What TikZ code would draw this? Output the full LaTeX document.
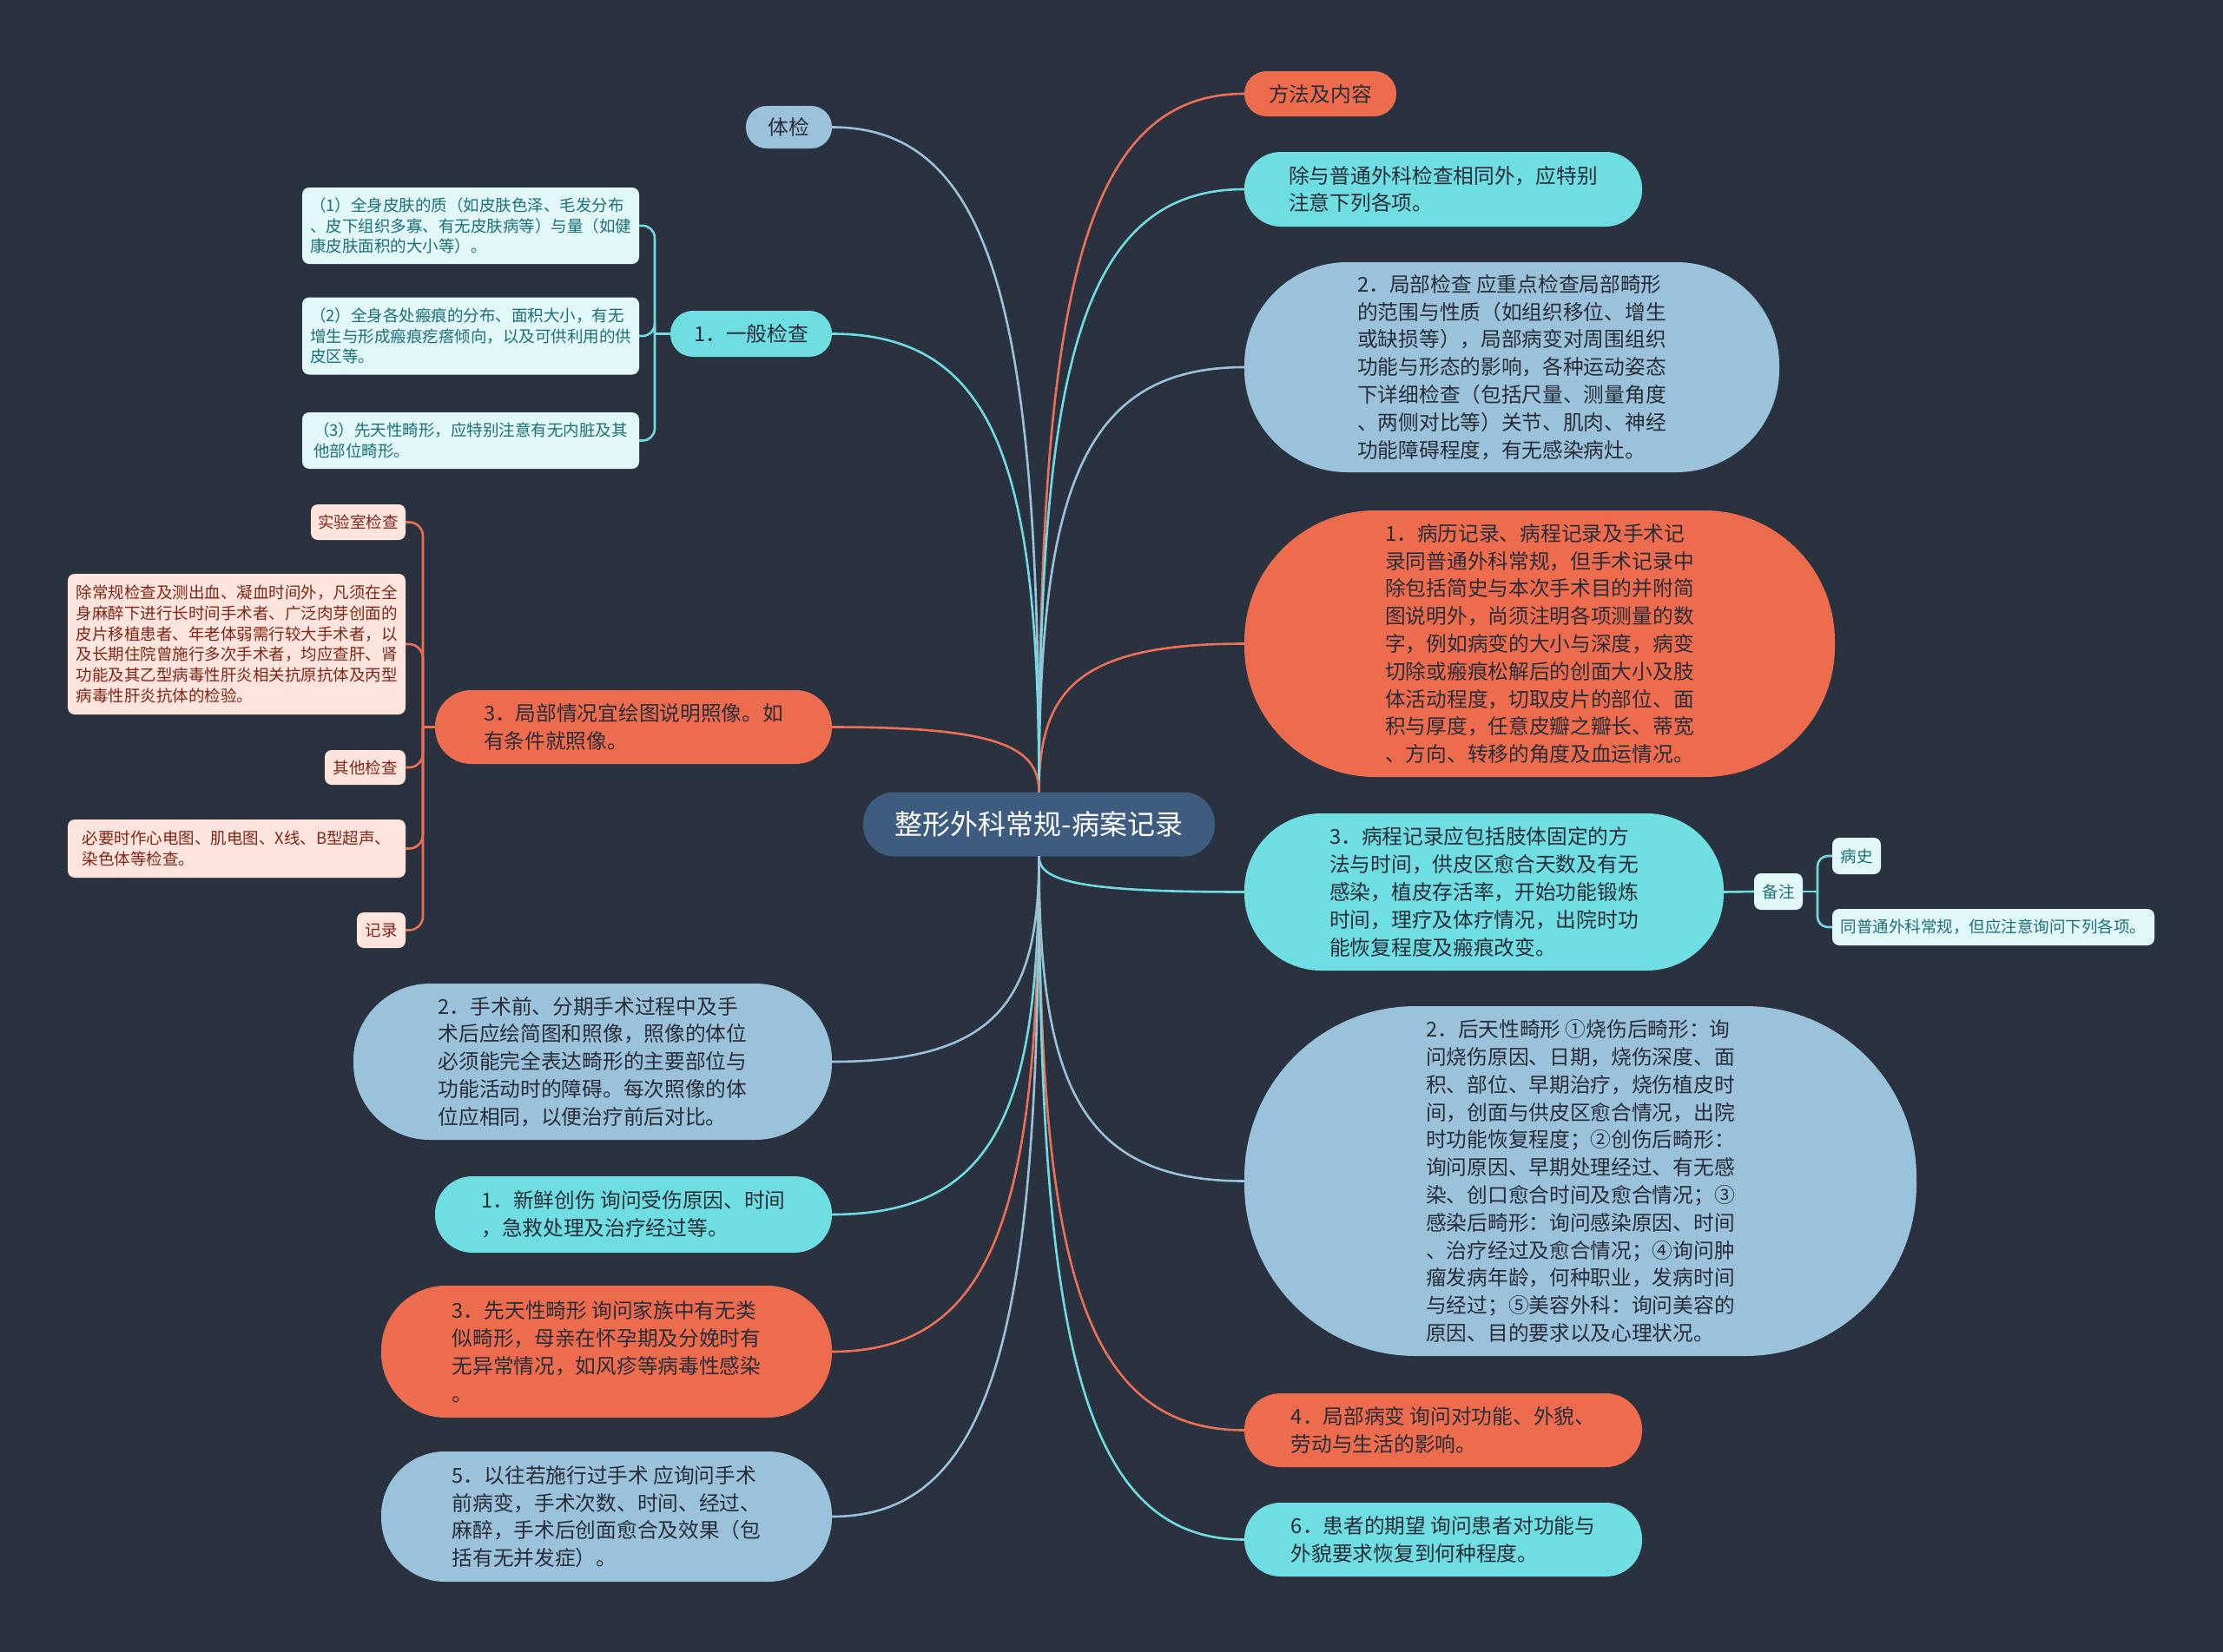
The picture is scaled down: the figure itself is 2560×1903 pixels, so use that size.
\documentclass[tikz,border=0pt]{standalone}
\usepackage{fontspec}
\newfontfamily\cjk{Noto Sans CJK SC}
\usetikzlibrary{calc}
\definecolor{bg}{RGB}{42,49,63}
\definecolor{orangeF}{RGB}{238,108,78}
\definecolor{cyanF}{RGB}{110,222,227}
\definecolor{blueF}{RGB}{155,194,219}
\definecolor{hubF}{RGB}{62,91,128}
\definecolor{darkT}{RGB}{40,45,56}
\definecolor{orangeL}{RGB}{236,112,86}
\definecolor{cyanL}{RGB}{110,220,226}
\definecolor{blueL}{RGB}{155,194,219}
\definecolor{subcF}{RGB}{226,247,248}
\definecolor{subcT}{RGB}{28,112,118}
\definecolor{subpF}{RGB}{253,228,221}
\definecolor{subpT}{RGB}{128,38,22}
\newcommand\hubto[3]{\draw[#1] (#2) .. controls ($(#2)!0.7!(#2|-#3)$) and ($(#3)!0.8!(#3-|#2)$) .. (#3);}
\begin{document}
\begin{tikzpicture}[x=1pt,y=-1pt,
  every node/.style={font=\cjk},
  mainbox/.style n args={2}{inner sep=0pt, minimum width=#1pt, minimum height=#2pt,
     rounded corners={#2*0.49pt}, align=left, text=darkT,
     font=\cjk\fontsize{23.7}{31.8}\selectfont},
  subbox/.style n args={2}{inner sep=0pt, minimum width=#1pt, minimum height=#2pt,
     rounded corners=8pt, align=left, font=\cjk\fontsize{18.5}{23.8}\selectfont},
  subc/.style={fill=subcF, text=subcT},
  subp/.style={fill=subpF, text=subpT},
  hubbox/.style={inner sep=0pt, minimum width=405pt, minimum height=74pt,
     rounded corners=36pt, fill=hubF, text=white,
     font=\cjk\fontsize{32}{38}\selectfont},
  conn/.style={line width=2.6pt},
]
\fill[bg] (0,0) rectangle (2560,1903);
\useasboundingbox (0,0) rectangle (2560,1903);

% hub
\node[hubbox] (hub) at (1196.5,949.5) {整形外科常规-病案记录};

% right side
\node[mainbox={175}{52}, fill=orangeF] (R1) at (1520.5,108) {方法及内容};
\node[mainbox={458}{86}, fill=cyanF] (R2) at (1662,218) {除与普通外科检查相同外，应特别\\注意下列各项。};
\node[mainbox={616}{242}, fill=blueF] (R3) at (1741,423) {2．局部检查 应重点检查局部畸形\\的范围与性质（如组织移位、增生\\或缺损等），局部病变对周围组织\\功能与形态的影响，各种运动姿态\\下详细检查（包括尺量、测量角度\\、两侧对比等）关节、肌肉、神经\\功能障碍程度，有无感染病灶。};
\node[mainbox={680}{307}, fill=orangeF] (R4) at (1773,741.5) {1．病历记录、病程记录及手术记\\录同普通外科常规，但手术记录中\\除包括简史与本次手术目的并附简\\图说明外，尚须注明各项测量的数\\字，例如病变的大小与深度，病变\\切除或瘢痕松解后的创面大小及肢\\体活动程度，切取皮片的部位、面\\积与厚度，任意皮瓣之瓣长、蒂宽\\、方向、转移的角度及血运情况。};
\node[mainbox={552}{181}, fill=cyanF] (R5) at (1709,1027.5) {3．病程记录应包括肢体固定的方\\法与时间，供皮区愈合天数及有无\\感染，植皮存活率，开始功能锻炼\\时间，理疗及体疗情况，出院时功\\能恢复程度及瘢痕改变。};
\node[mainbox={774}{403}, fill=blueF] (R6) at (1820,1360.5) {2．后天性畸形 ①烧伤后畸形：询\\问烧伤原因、日期，烧伤深度、面\\积、部位、早期治疗，烧伤植皮时\\间，创面与供皮区愈合情况，出院\\时功能恢复程度；②创伤后畸形：\\询问原因、早期处理经过、有无感\\染、创口愈合时间及愈合情况；③\\感染后畸形：询问感染原因、时间\\、治疗经过及愈合情况；④询问肿\\瘤发病年龄，何种职业，发病时间\\与经过；⑤美容外科：询问美容的\\原因、目的要求以及心理状况。};
\node[mainbox={458}{85}, fill=orangeF] (R7) at (1662,1647.5) {4．局部病变 询问对功能、外貌、\\劳动与生活的影响。};
\node[mainbox={458}{85}, fill=cyanF] (R8) at (1662,1773.5) {6．患者的期望 询问患者对功能与\\外貌要求恢复到何种程度。};

% 备注 group
\node[subbox={56}{42}, subc] (bz) at (2048,1027) {备注};
\node[subbox={56}{42}, subc] (b1) at (2138,986) {病史};
\node[subbox={371}{42}, subc] (b2) at (2295.5,1068) {同普通外科常规，但应注意询问下列各项。};

% left side
\node[mainbox={99}{49}, fill=blueF] (L1) at (908.5,146.5) {体检};
\node[mainbox={186}{53}, fill=cyanF] (L2) at (865,384.5) {1．一般检查};
\node[mainbox={457}{85}, fill=orangeF] (L3) at (729.5,837.5) {3．局部情况宜绘图说明照像。如\\有条件就照像。};
\node[mainbox={551}{180}, fill=blueF] (L4) at (682.5,1223) {2．手术前、分期手术过程中及手\\术后应绘简图和照像，照像的体位\\必须能完全表达畸形的主要部位与\\功能活动时的障碍。每次照像的体\\位应相同，以便治疗前后对比。};
\node[mainbox={457}{88}, fill=cyanF] (L5) at (729.5,1399) {1．新鲜创伤 询问受伤原因、时间\\，急救处理及治疗经过等。};
\node[mainbox={519}{152}, fill=orangeF] (L6) at (698.5,1557) {3．先天性畸形 询问家族中有无类\\似畸形，母亲在怀孕期及分娩时有\\无异常情况，如风疹等病毒性感染\\。};
\node[mainbox={519}{150}, fill=blueF] (L7) at (698.5,1747) {5．以往若施行过手术 应询问手术\\前病变，手术次数、时间、经过、\\麻醉，手术后创面愈合及效果（包\\括有无并发症）。};

% 一般检查 children
\node[subbox={388}{88}, subc] (g1) at (542,260) {（1）全身皮肤的质（如皮肤色泽、毛发分布\\、皮下组织多寡、有无皮肤病等）与量（如健\\康皮肤面积的大小等）。};
\node[subbox={388}{89}, subc] (g2) at (542,387) {（2）全身各处瘢痕的分布、面积大小，有无\\增生与形成瘢痕疙瘩倾向，以及可供利用的供\\皮区等。};
\node[subbox={388}{65}, subc] (g3) at (542,507.5) {（3）先天性畸形，应特别注意有无内脏及其\\他部位畸形。};

% 局部情况 children
\node[subbox={109}{41}, subp] (p1) at (412.5,601.5) {实验室检查};
\node[subbox={389}{162}, subp] (p2) at (272.5,742) {除常规检查及测出血、凝血时间外，凡须在全\\身麻醉下进行长时间手术者、广泛肉芽创面的\\皮片移植患者、年老体弱需行较大手术者，以\\及长期住院曾施行多次手术者，均应查肝、肾\\功能及其乙型病毒性肝炎相关抗原抗体及丙型\\病毒性肝炎抗体的检验。};
\node[subbox={93}{40}, subp] (p3) at (420.5,884) {其他检查};
\node[subbox={389}{67}, subp] (p4) at (272.5,977.5) {必要时作心电图、肌电图、X线、B型超声、\\染色体等检查。};
\node[subbox={56}{41}, subp] (p5) at (439,1071.5) {记录};

% hub connectors
\hubto{conn, orangeL}{hub.north}{R1.west}
\hubto{conn, cyanL}{hub.north}{R2.west}
\hubto{conn, blueL}{hub.north}{R3.west}
\hubto{conn, orangeL}{hub.north}{R4.west}
\hubto{conn, cyanL}{hub.south}{R5.west}
\hubto{conn, blueL}{hub.south}{R6.west}
\hubto{conn, orangeL}{hub.south}{R7.west}
\hubto{conn, cyanL}{hub.south}{R8.west}
\hubto{conn, blueL}{hub.north}{L1.east}
\hubto{conn, cyanL}{hub.north}{L2.east}
\hubto{conn, orangeL}{hub.north}{L3.east}
\hubto{conn, blueL}{hub.south}{L4.east}
\hubto{conn, cyanL}{hub.south}{L5.east}
\hubto{conn, orangeL}{hub.south}{L6.east}
\hubto{conn, blueL}{hub.south}{L7.east}

% 备注 connectors
\coordinate (jb) at (2093,1027);
\draw[conn, cyanL] (R5.east) -- (bz.west);
\draw[conn, cyanL] (bz.east) -- (jb);
\draw[conn, cyanL, rounded corners=12pt] (jb) |- (b1.west);
\draw[conn, cyanL, rounded corners=12pt] (jb) |- (b2.west);

% 一般检查 bracket
\coordinate (jg) at (754,384.5);
\draw[conn, cyanL] (L2.west) -- (jg);
\foreach \c in {g1,g2,g3} \draw[conn, cyanL, rounded corners=14pt] (\c.east) -| (jg);

% 局部情况 bracket
\coordinate (jp) at (487,837.5);
\draw[conn, orangeL] (L3.west) -- (jp);
\foreach \c in {p1,p2,p3,p4,p5} \draw[conn, orangeL, rounded corners=16pt] (\c.east) -| (jp);
\end{tikzpicture}
\end{document}
